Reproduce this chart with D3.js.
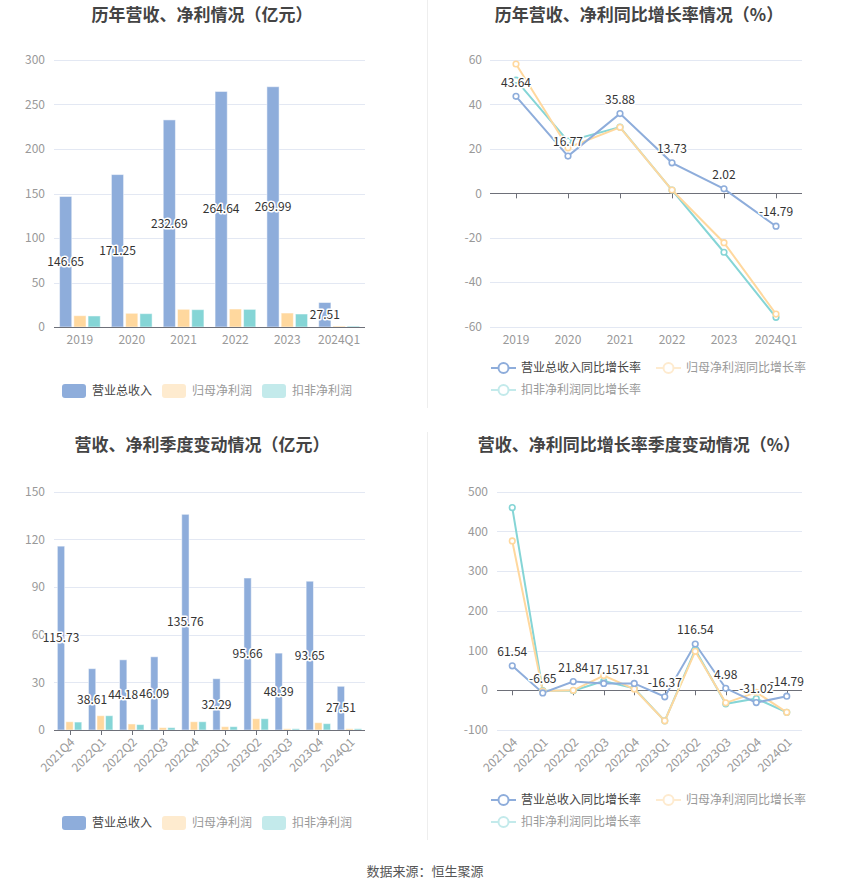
<!DOCTYPE html>
<html><head><meta charset="utf-8">
<script src="https://cdn.jsdelivr.net/npm/d3@7"></script>
<style>
body{margin:0;background:#fff;}
svg{display:block;font-family:"Noto Sans CJK SC","Microsoft YaHei",sans-serif;}
</style></head><body>
<svg id="c" width="850" height="891"></svg>
<script>
// ---- data ----
const yearCats = ["2019","2020","2021","2022","2023","2024Q1"];
const yearRevenue = [146.65,171.25,232.69,264.64,269.99,27.51];
const yearNetProfit = [12.7,15.4,19.9,20.2,15.7,1.1];
const yearDeductedProfit = [12.4,15.0,19.5,19.8,14.6,1.0];
const yearTicks = [0,50,100,150,200,250,300];

const yearRevenueGrowth = [43.64,16.77,35.88,13.73,2.02,-14.79];
const yearNetGrowth = [58.2,20.5,29.7,1.5,-22.2,-54.3];
const yearDeductedGrowth = [50.9,23.5,29.8,1.5,-26.5,-55.8];
const yearGrowthTicks = [-60,-40,-20,0,20,40,60];

const qCats = ["2021Q4","2022Q1","2022Q2","2022Q3","2022Q4","2023Q1","2023Q2","2023Q3","2023Q4","2024Q1"];
const qRevenue = [115.73,38.61,44.18,46.09,135.76,32.29,95.66,48.39,93.65,27.51];
const qNetProfit = [5.2,9.0,3.8,1.5,5.2,2.1,7.1,0.8,4.6,0.8];
const qDeductedProfit = [5.0,9.0,3.4,1.5,5.2,2.1,7.1,0.8,4.0,0.8];
const qTicks = [0,30,60,90,120,150];

const qRevenueGrowth = [61.54,-6.65,21.84,17.15,17.31,-16.37,116.54,4.98,-31.02,-14.79];
const qNetGrowth = [376,-2,0,37,3,-77,98,-31.6,-5,-55.5];
const qDeductedGrowth = [460,-1,-1,23,5,-77,102,-34,-21,-55.5];
const qGrowthTicks = [-100,0,100,200,300,400,500];

const barNames = ["营业总收入","归母净利润","扣非净利润"];
const lineNames = ["营业总收入同比增长率","归母净利润同比增长率","扣非净利润同比增长率"];
const titles = ["历年营收、净利情况（亿元）","历年营收、净利同比增长率情况（%）","营收、净利季度变动情况（亿元）","营收、净利同比增长率季度变动情况（%）"];
const sourceText = "数据来源：恒生聚源";

const colors = ["#8eaddb","#ffd89e","#85d5d6"];
const legendColors = ["#8eaddb","#feebcf","#c3eaeb"];
const legendText = ["#444","#999","#999"];

const svg = d3.select("#c");
const gridColor = "#e3e8f3";
const tickColor = "#999";
// vertical centring offsets for alphabetic baseline
const NUM_DY = 4.2, CJK12_DY = 4.4, TITLE_DY = 6.2;

svg.append("line").attr("x1",427.5).attr("x2",427.5).attr("y1",0).attr("y2",408).attr("stroke","#eee");
svg.append("line").attr("x1",427.5).attr("x2",427.5).attr("y1",432).attr("y2",840).attr("stroke","#eee");

function title(txt,cx,cy){
  svg.append("text").attr("x",cx).attr("y",cy+TITLE_DY).attr("text-anchor","middle")
    .attr("font-size",17).attr("font-weight","bold")
    .attr("fill","#444").text(txt);
}
title(titles[0],202,15); title(titles[1],639,15);
title(titles[2],202,445); title(titles[3],639,445);

function yAxis(y,ticks,x0,x1,labelX){
  const g = svg.append("g");
  ticks.forEach(t=>{
    if(t!==0) g.append("line").attr("x1",x0).attr("x2",x1).attr("y1",Math.round(y(t))+0.5).attr("y2",Math.round(y(t))+0.5).attr("stroke",gridColor);
    g.append("text").attr("x",labelX).attr("y",y(t)+NUM_DY).attr("text-anchor","end")
      .attr("font-size",12).attr("fill",tickColor).text(t);
  });
}

function xAxisLine(x0,x1,yy){
  svg.append("line").attr("x1",x0).attr("x2",x1).attr("y1",Math.round(yy)+0.5).attr("y2",Math.round(yy)+0.5).attr("stroke","#6e7079");
}

function haloLabel(x,y,txt){
  svg.append("text").attr("x",x).attr("y",y+NUM_DY).attr("text-anchor","middle")
    .attr("font-size",12).attr("fill","#333").attr("stroke","#fff").attr("stroke-width",3)
    .attr("paint-order","stroke").attr("stroke-linejoin","round").text(txt);
}

function catLabel(cx,yy,c,rotate){
  if(rotate){
    svg.append("text").attr("transform",`translate(${cx+3},${yy+10}) rotate(-45)`)
      .attr("text-anchor","end").attr("dy",NUM_DY).attr("font-size",12).attr("fill",tickColor).text(c);
  } else {
    svg.append("text").attr("x",cx).attr("y",yy+13+NUM_DY).attr("text-anchor","middle")
      .attr("font-size",12).attr("fill",tickColor).text(c);
  }
}

function barChart(opts){
  const {cats,series,ticks,x0,x1,yTop,yBot,rotate} = opts;
  const x = d3.scaleBand().domain(cats).range([x0,x1]);
  const y = d3.scaleLinear().domain([ticks[0],ticks[ticks.length-1]]).range([yBot,yTop]);
  yAxis(y,ticks,x0,x1,45);
  const bw = x.bandwidth()*0.235, gap = x.bandwidth()*0.04;
  const total = bw*3+gap*2;
  series.forEach((s,si)=>{
    svg.append("g").selectAll("rect").data(s).join("rect")
      .attr("x",(d,i)=>x(cats[i])+(x.bandwidth()-total)/2+si*(bw+gap))
      .attr("width",bw)
      .attr("y",d=>y(d)).attr("height",d=>y(0)-y(d))
      .attr("fill",colors[si]).attr("stroke","rgba(255,255,255,0.5)").attr("stroke-width",1);
  });
  xAxisLine(x0,x1,y(0));
  cats.forEach(c=>{
    const cx = x(c)+x.bandwidth()/2;
    if(rotate) svg.append("line").attr("x1",Math.round(cx)+0.5).attr("x2",Math.round(cx)+0.5).attr("y1",y(0)).attr("y2",y(0)+5).attr("stroke","#6e7079");
    catLabel(cx,y(0),c,rotate);
  });
  series[0].forEach((v,i)=>{
    const bx = x(cats[i])+(x.bandwidth()-total)/2+bw/2;
    haloLabel(bx,(y(v)+y(0))/2,v.toFixed(2));
  });
}

function lineChart(opts){
  const {cats,series,ticks,x0,x1,yTop,yBot,rotate,labelX} = opts;
  const x = d3.scalePoint().domain(cats).range([x0,x1]).padding(0.5);
  const y = d3.scaleLinear().domain([ticks[0],ticks[ticks.length-1]]).range([yBot,yTop]);
  yAxis(y,ticks,x0,x1,labelX);
  xAxisLine(x0,x1,y(0));
  cats.forEach(c=>{
    const cx = x(c);
    svg.append("line").attr("x1",Math.round(cx)+0.5).attr("x2",Math.round(cx)+0.5).attr("y1",y(0)).attr("y2",y(0)+5).attr("stroke","#6e7079");
  });
  const line = d3.line().x((d,i)=>x(cats[i])).y(d=>y(d));
  [2,1,0].forEach(si=>{
    svg.append("path").datum(series[si]).attr("d",line).attr("fill","none").attr("stroke",colors[si]).attr("stroke-width",2);
  });
  [2,1,0].forEach(si=>{
    svg.append("g").selectAll("circle").data(series[si]).join("circle")
      .attr("cx",(d,i)=>x(cats[i])).attr("cy",d=>y(d)).attr("r",2.8)
      .attr("fill","#fff").attr("stroke",colors[si]).attr("stroke-width",1.6);
  });
  series[0].forEach((v,i)=>{
    haloLabel(x(cats[i]),y(v)-14,v.toFixed(2));
  });
  cats.forEach(c=>catLabel(x(c),y(ticks[0]),c,rotate));
}

barChart({cats:yearCats,series:[yearRevenue,yearNetProfit,yearDeductedProfit],ticks:yearTicks,x0:54,x1:365,yTop:60,yBot:327});
lineChart({cats:yearCats,series:[yearRevenueGrowth,yearNetGrowth,yearDeductedGrowth],ticks:yearGrowthTicks,x0:490,x1:802,yTop:60,yBot:326.7,labelX:482});
barChart({cats:qCats,series:[qRevenue,qNetProfit,qDeductedProfit],ticks:qTicks,x0:54,x1:365,yTop:491.7,yBot:730,rotate:true});
lineChart({cats:qCats,series:[qRevenueGrowth,qNetGrowth,qDeductedGrowth],ticks:qGrowthTicks,x0:497,x1:802,yTop:491.7,yBot:730,rotate:true,labelX:488});

function barLegend(yc){
  const xs=[62,162,262];
  barNames.forEach((n,i)=>{
    svg.append("rect").attr("x",xs[i]).attr("y",yc-7).attr("width",24).attr("height",14).attr("rx",3).attr("fill",legendColors[i]);
    svg.append("text").attr("x",xs[i]+30).attr("y",yc+CJK12_DY).attr("font-size",12).attr("fill",legendText[i]).text(n);
  });
}
function lineLegend(y1,y2){
  const pos=[[491,y1],[656,y1],[491,y2]];
  lineNames.forEach((n,i)=>{
    const [x,yc]=pos[i];
    svg.append("line").attr("x1",x).attr("x2",x+25).attr("y1",yc).attr("y2",yc).attr("stroke",legendColors[i]).attr("stroke-width",2);
    svg.append("circle").attr("cx",x+12.5).attr("cy",yc).attr("r",5).attr("fill","#fff").attr("stroke",legendColors[i]).attr("stroke-width",2);
    svg.append("text").attr("x",x+30).attr("y",yc+CJK12_DY).attr("font-size",12).attr("fill",legendText[i]).text(n);
  });
}
barLegend(391); lineLegend(368,390);
barLegend(823); lineLegend(800,822);

svg.append("text").attr("x",425).attr("y",871+4.8).attr("text-anchor","middle")
  .attr("font-size",13).attr("fill","#555").text(sourceText);
</script></body></html>
